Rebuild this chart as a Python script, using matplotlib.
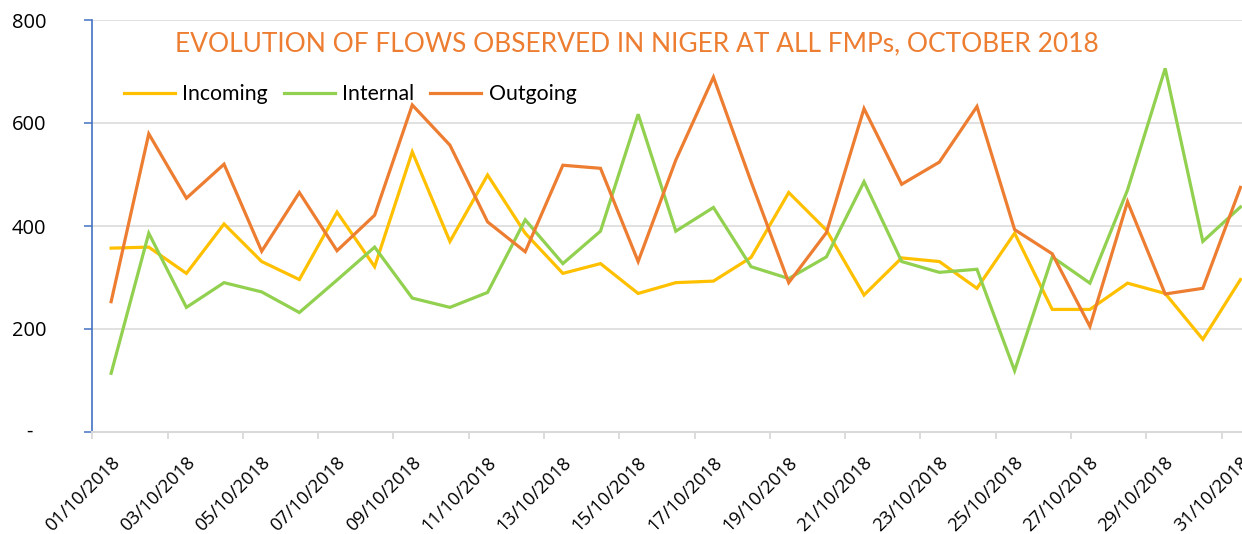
import matplotlib
matplotlib.use('Agg')
import matplotlib.pyplot as plt
import matplotlib.transforms as mtransforms

# Daily flows observed at all FMPs, Niger, October 2018
dates = [f"{d:02d}/10/2018" for d in range(1, 32)]

incoming = [357, 359, 308, 404, 331, 296, 427, 321, 544, 370,
            499, 386, 308, 327, 269, 290, 293, 339, 465, 392,
            266, 338, 331, 279, 386, 238, 238, 289, 269, 180, 296]
internal = [114, 386, 242, 290, 272, 232, 295, 359, 260, 242,
            271, 412, 327, 390, 617, 390, 436, 321, 298, 340,
            486, 331, 310, 316, 119, 340, 289, 470, 706, 370, 437]
outgoing = [253, 579, 454, 520, 351, 465, 352, 421, 635, 557,
            408, 350, 518, 512, 331, 528, 689, 486, 290, 387,
            628, 481, 524, 632, 393, 346, 205, 447, 268, 279, 475]

series_names = ['Incoming', 'Internal', 'Outgoing']
series_colors = ['#FFC000', '#92D050', '#ED7D31']
y_ticks = [0, 200, 400, 600, 800]
y_labels = ['', '200', '400', '600', '800']

W, H = 1242, 534
fig = plt.figure(figsize=(W / 100, H / 100), dpi=100)
# axes runs past the right edge, like the cropped original
ax = fig.add_axes([92.3 / W, 102 / H, 1167 / W, 412 / H])

x = list(range(len(dates)))
for vals, name, col in zip([incoming, internal, outgoing], series_names, series_colors):
    ax.plot(x, vals, color=col, lw=2.3, label=name, solid_joinstyle='miter')

ax.set_xlim(-0.5, len(dates) - 0.5)
ax.set_ylim(0, 800)

# y axis
ax.set_yticks(y_ticks)
ax.set_yticklabels(y_labels, fontfamily='Open Sans', fontsize=14.5)
ax.tick_params(axis='y', direction='out', length=6, width=1.1, color='#4472C4', pad=27)
ax.text(-0.054, 0, '-', transform=mtransforms.blended_transform_factory(ax.transAxes, ax.transData),
        ha='center', va='center', fontfamily='Open Sans', fontsize=14.5)
ax.yaxis.grid(True, color='#D9D9D9', lw=1.1)
ax.set_axisbelow(True)

# x axis: marks on category boundaries, labels on every other category
ax.set_xticks([i - 0.5 for i in range(0, len(dates), 2)])
ax.set_xticklabels([])
ax.set_xticks([i + 0.15 for i in x[::2]], minor=True)
ax.set_xticklabels(dates[::2], minor=True, rotation=45, ha='right', va='center',
                   rotation_mode='anchor', fontfamily='Open Sans', fontsize=13.2)
ax.tick_params(axis='x', which='major', direction='out', length=5, width=1.3, color='#D9D9D9')
ax.tick_params(axis='x', which='minor', length=0, pad=20)

for side in ['top', 'right']:
    ax.spines[side].set_visible(False)
ax.spines['left'].set_color('#4472C4')
ax.spines['left'].set_linewidth(1.2)
ax.spines['bottom'].set_color('#D9D9D9')
ax.spines['bottom'].set_linewidth(1.5)

fig.text(637 / W, 1 - 44 / H, 'EVOLUTION OF FLOWS OBSERVED IN NIGER AT ALL FMPs, OCTOBER 2018',
         ha='center', va='center', color='#ED7D31', fontfamily='Lato', fontsize=19)

ax.legend(loc='center left', bbox_to_anchor=(113 / W, 1 - 94 / H), bbox_transform=fig.transFigure,
          ncol=3, frameon=False, borderpad=0, handlelength=2.4, handletextpad=0.35,
          columnspacing=0.75, prop={'family': 'Lato', 'size': 15.3})

fig.savefig('out.png', dpi=100)
